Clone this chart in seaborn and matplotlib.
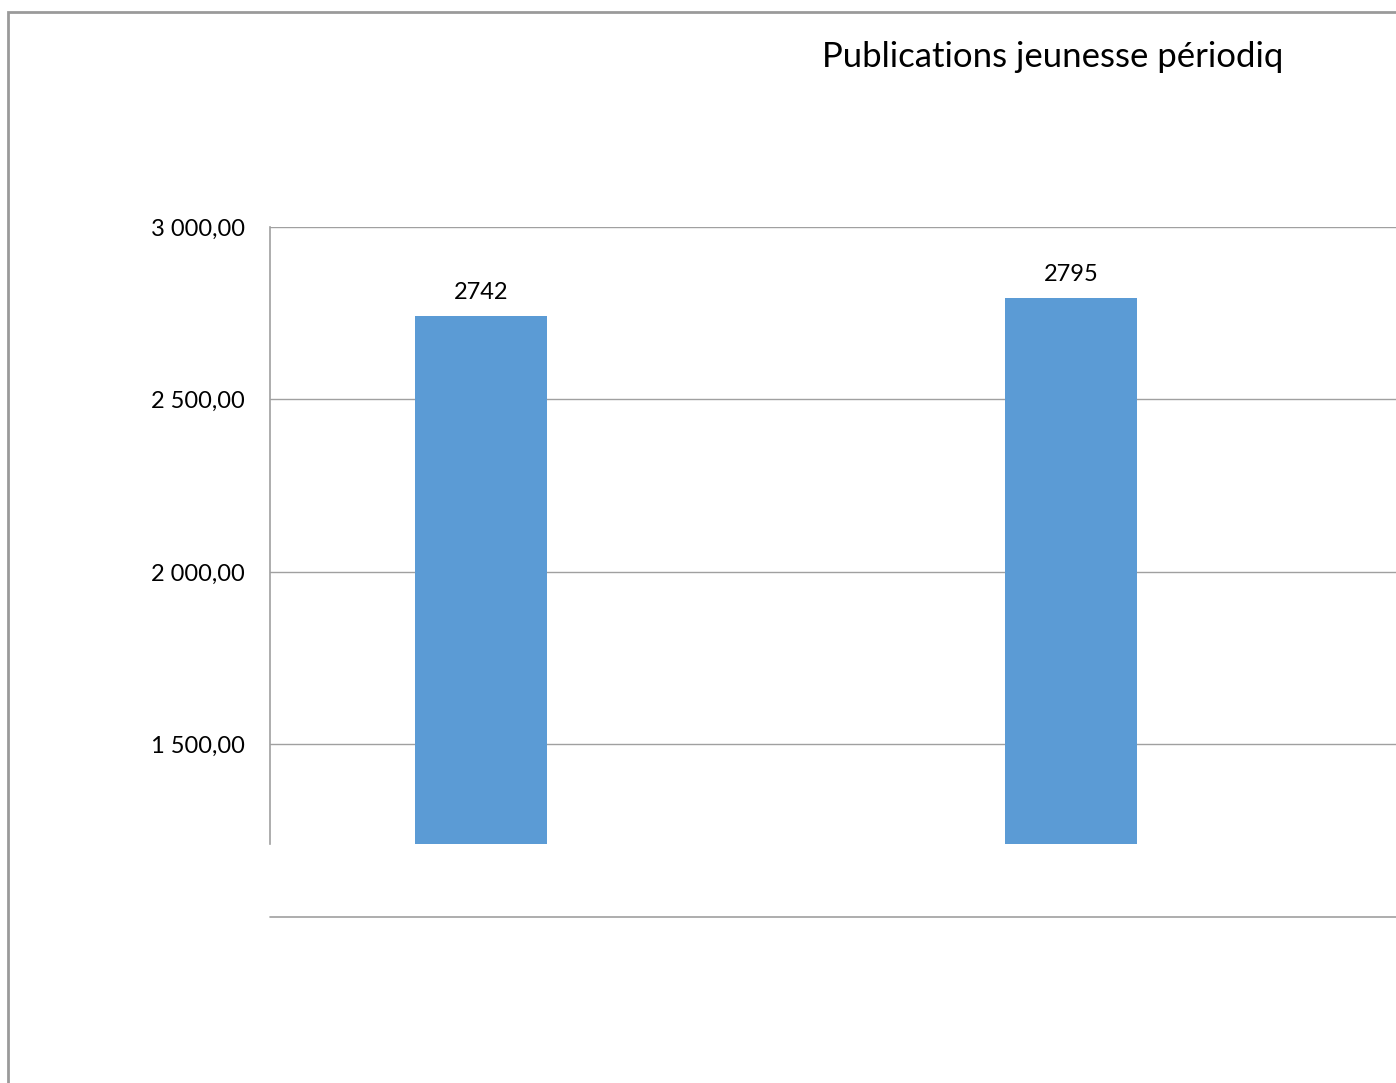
import pandas as pd
import matplotlib
matplotlib.use("Agg")
import matplotlib.pyplot as plt
from matplotlib.patches import Rectangle
from matplotlib.ticker import FuncFormatter
import seaborn as sns

# values (category names are not shown in the picture)
categories = ["Série 1", "Série 2"]
values = [2742, 2795]
y_ticks = [1500, 2000, 2500, 3000]
title = "Publications jeunesse périodiq"

sns.set_style("white")
plt.rcParams['font.family'] = ['Lato', 'DejaVu Sans']
plt.rcParams['text.color'] = "black"

W, H = 1396, 1083
fig = plt.figure(figsize=(W / 100, H / 100), dpi=100)

# chart frame (cropped on the right and bottom)
fig.patches.append(Rectangle((8 / W, -0.1), 1.2, 1 - 12 / H + 0.1,
                             transform=fig.transFigure, fill=False,
                             edgecolor="#9a9a9a", linewidth=2))

ax = fig.add_axes([270 / W, 1 - 844 / H, 1 - 270 / W, (844 - 227) / H])

df = pd.DataFrame({"cat": categories, "val": values})
sns.barplot(data=df, x="cat", y="val", color="#5B9BD5", width=0.224,
            saturation=1, linewidth=0, ax=ax)

ax.set_xlim(-0.3576, 1.5508)
ax.set_ylim(1211, 3000)
ax.set_yticks(y_ticks)
ax.yaxis.set_major_formatter(FuncFormatter(
    lambda v, p: f"{v:,.2f}".replace(",", " ").replace(".", ",")))
ax.tick_params(axis="y", length=0, pad=18, labelsize=17, labelcolor="black")
ax.tick_params(axis="x", length=0, labelbottom=False)
ax.set_xlabel("")
ax.set_ylabel("")

ax.grid(axis="y", color="#a0a0a0", linewidth=1)
ax.set_axisbelow(True)
ax.axhline(1000, color="#a0a0a0", linewidth=1.2, clip_on=False, zorder=0)
for s in ["top", "right", "bottom"]:
    ax.spines[s].set_visible(False)
ax.spines["left"].set_color("#a0a0a0")
ax.spines["left"].set_linewidth(1.2)

ax.bar_label(ax.containers[0], labels=[str(v) for v in values],
             padding=9, fontsize=17, color="black")

fig.text(822 / W, 1 - 57 / H, title, ha="left", va="center", fontsize=25,
         color="black")

fig.savefig("out.png", dpi=100)
